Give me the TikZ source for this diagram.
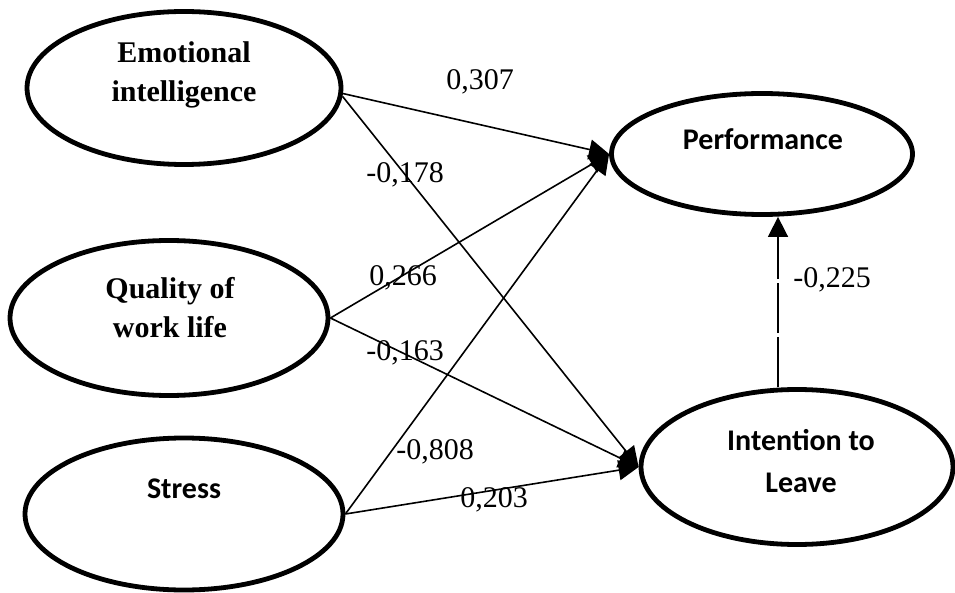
\documentclass[tikz,border=0pt]{standalone}
\usepackage{fontspec}
\setmainfont{Liberation Serif}
\newfontfamily\calibri{Carlito}
\usetikzlibrary{shapes.geometric,arrows.meta}

\begin{document}
\begin{tikzpicture}
  [x=1pt,y=-1pt,
   every node/.style={inner sep=0pt},
   latent/.style={ellipse,draw,line width=4.8pt},
   serifname/.style={font=\fontsize{30}{39}\selectfont\bfseries,align=center},
   sansname/.style={font=\fontsize{30}{42}\selectfont\calibri\bfseries,align=center},
   coef/.style={font=\fontsize{30}{36}\selectfont},
   path/.style={line width=1.6pt,-{Triangle[length=20pt,width=20pt]}}]
  \useasboundingbox (0,0) rectangle (955,593);

  \node [latent,minimum width=314pt,minimum height=153pt] (ei) at (184,88) {};
  \node [latent,minimum width=318pt,minimum height=155pt] (qwl) at (169,318) {};
  \node [latent,minimum width=318pt,minimum height=152pt] (stress) at (184,514) {};
  \node [latent,minimum width=301pt,minimum height=121pt] (perf) at (762,154) {};
  \node [latent,minimum width=312pt,minimum height=155pt] (int) at (797,467) {};

  \node [serifname] (eitxt) at (184,75) {Emotional\\intelligence};
  \node [serifname] (qwltxt) at (170,308) {Quality of\\work life};
  \node [sansname] (stresstxt) at (184,489) {Stress};
  \node [sansname] (perftxt) at (763,139) {Performance};
  \node [sansname] (inttxt) at (801,461) {Intention to\\Leave};

  \foreach \from/\to in {ei.-2/perf.west,ei.-3/int.west,qwl.east/perf.west,qwl.east/int.west,stress.east/perf.west,stress.east/int.west}
    \draw [path] (\from) -- (\to);

  \coordinate (vx) at (778,0);
  \draw [path,dash pattern=on 50pt off 4pt] (int.north -| vx) -- (perf.south -| vx);

  \node [coef] (c1) at (480,82) {0,307};
  \node [coef] (c2) at (405,175) {-0,178};
  \node [coef] (c3) at (403,278) {0,266};
  \node [coef] (c4) at (405,353) {-0,163};
  \node [coef] (c5) at (435,452) {-0,808};
  \node [coef] (c6) at (494,500) {0,203};
  \node [coef] (c7) at (832,280) {-0,225};

\end{tikzpicture}
\end{document}
